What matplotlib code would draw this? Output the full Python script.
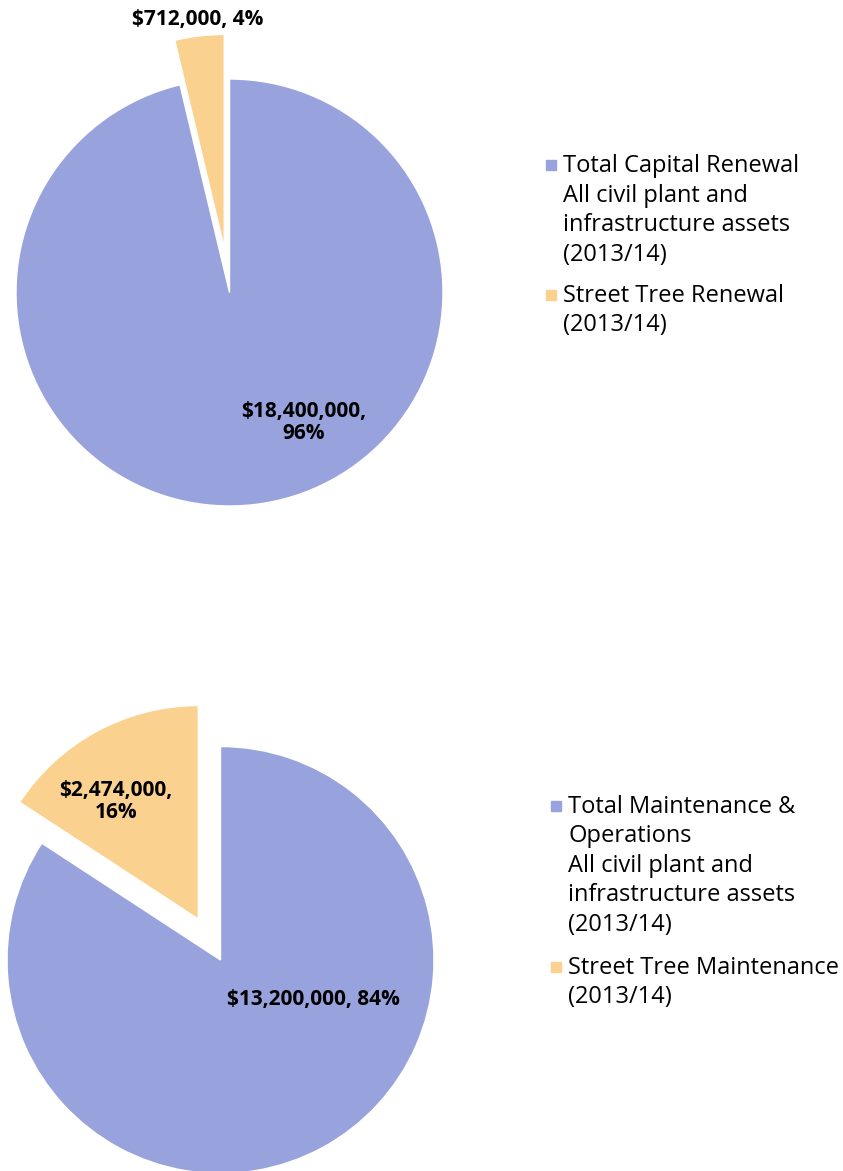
import matplotlib
matplotlib.use("Agg")
import matplotlib.pyplot as plt

# ---- data ----
capital_labels = ["Total Capital Renewal\nAll civil plant and\ninfrastructure assets\n(2013/14)",
                  "Street Tree Renewal\n(2013/14)"]
capital_values = [18400000, 712000]
maint_labels = ["Total Maintenance &\nOperations\nAll civil plant and\ninfrastructure assets\n(2013/14)",
                "Street Tree Maintenance\n(2013/14)"]
maint_values = [13200000, 2474000]
colors = ["#98A3DE", "#FBD18F"]

W, H = 843, 1171
plt.rcParams['font.family'] = ['Open Sans', 'DejaVu Sans']
fig = plt.figure(figsize=(W / 100, H / 100), dpi=100)
ax = fig.add_axes([0, 0, 1, 1])

R = 213.5

def Y(y):
    return H - y

def draw_pie(values, center, explode_frac):
    ax.pie(values, colors=colors, startangle=90, counterclock=False,
           center=center, radius=R, explode=[0, explode_frac * R],
           wedgeprops=dict(edgecolor='white', linewidth=1.0))

draw_pie(capital_values, (229.5, Y(292.5)), 0.21)
draw_pie(maint_values, (220.5, Y(960)), 0.218)

def fmt(values, i, sep):
    pct = values[i] / sum(values) * 100
    return f"${values[i]:,},{sep}{pct:.0f}%"

lab_kw = dict(fontsize=15, fontweight='bold', ha='center', va='baseline',
              color='black', linespacing=1.05)
# top pie labels (y = baseline of last line)
ax.text(303.5, Y(439), fmt(capital_values, 0, "\n"), **lab_kw)
ax.text(198, Y(25), fmt(capital_values, 1, " "), **lab_kw)
# bottom pie labels
ax.text(116, Y(818), fmt(maint_values, 1, "\n"), **lab_kw)
ax.text(313, Y(1005), fmt(maint_values, 0, " "), **lab_kw)

# legends
def legend(labels, x_marker, x_text, y0, step, gap):
    y = y0
    for lab, c in zip(labels, colors):
        lines = lab.split("\n")
        ax.plot([x_marker], [Y(y - 7)], marker='s', markersize=7.5,
                color=c, linestyle='none')
        for ln in lines:
            ax.text(x_text, Y(y), ln, fontsize=17, ha='left', va='baseline',
                    color='black')
            y += step
        y += gap - step

legend(capital_labels, 551, 563, 171.7, 29.8, 40.5)
legend(maint_labels, 556, 568, 812.7, 29.5, 43)

ax.set_xlim(0, W)
ax.set_ylim(0, H)
ax.set_aspect('equal')
ax.axis('off')

fig.savefig("out.png", dpi=100)
